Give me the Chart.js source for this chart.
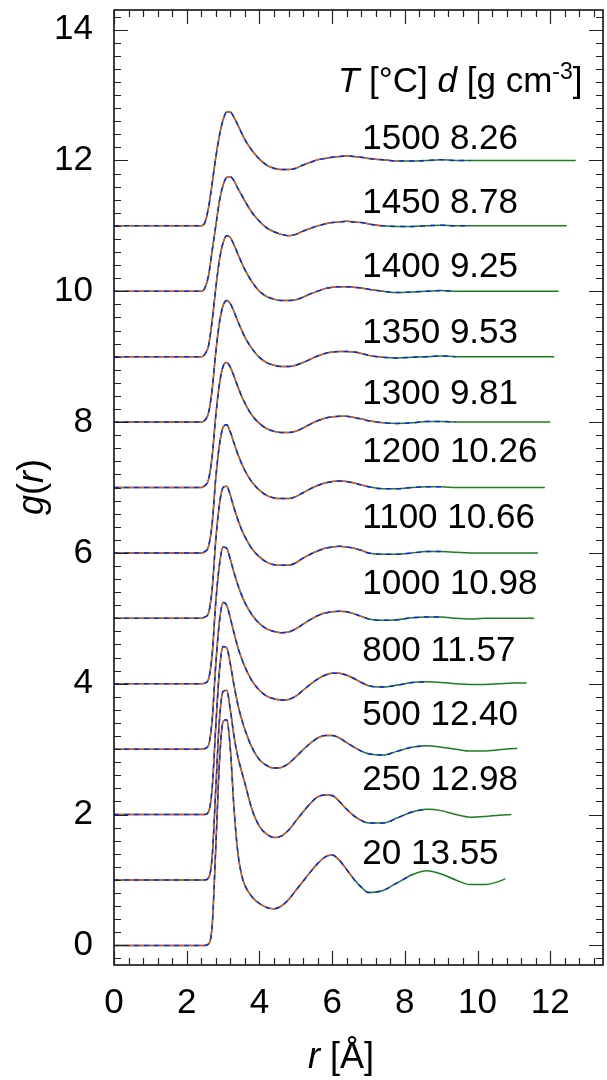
<!DOCTYPE html>
<html>
<head>
<meta charset="utf-8">
<script src="https://cdn.jsdelivr.net/npm/chart.js@4/dist/chart.umd.min.js"></script>
<style>
  html, body { margin: 0; padding: 0; background: #fff; }
  #wrap { width: 607px; height: 1080px; }
</style>
</head>
<body>
<div id="wrap"><canvas id="chart" width="607" height="1080"></canvas></div>
<script>
// Temperatures (°C) and densities (g cm-3), bottom curve first
const temps = ['20', '250', '500', '800', '1000', '1100', '1200', '1300', '1350', '1400', '1450', '1500'];
const densities = ['13.55', '12.98', '12.40', '11.57', '10.98', '10.66', '10.26', '9.81', '9.53', '9.25', '8.78', '8.26'];

// r grid (Å) shared by all curves
const rGrid = [0, 2.4, 2.5, 2.6, 2.7, 2.8, 2.9, 3.0, 3.1, 3.2, 3.3, 3.4, 3.5, 3.6,
  3.8, 4.0, 4.2, 4.4, 4.6, 4.8, 5.0, 5.2, 5.4, 5.6, 5.8, 6.0, 6.2, 6.4, 6.6, 6.8,
  7.0, 7.4, 7.8, 8.2, 8.6, 9.0, 9.4, 9.8, 10.2, 10.6, 11.0, 11.4, 11.8, 12.2, 12.6];

// g(r) for each temperature (not shifted)
const g20 = [0, 0, 0, 0.02, 0.3, 1.5, 2.8, 3.42, 3.45, 3.0, 2.1, 1.45, 1.1, 0.92,
  0.74, 0.64, 0.58, 0.56, 0.6, 0.7, 0.84, 0.98, 1.12, 1.25, 1.35, 1.38, 1.3, 1.16, 1.01, 0.89,
  0.81, 0.84, 0.96, 1.08, 1.14, 1.09, 1.0, 0.93, 0.93, 0.98];
const g250 = [0, 0, 0, 0.03, 0.35, 1.4, 2.45, 2.88, 2.9, 2.6, 2.2, 1.9, 1.68, 1.48,
  1.07, 0.82, 0.7, 0.65, 0.67, 0.76, 0.9, 1.04, 1.17, 1.27, 1.3, 1.29, 1.2, 1.08, 0.98, 0.91,
  0.87, 0.87, 0.95, 1.04, 1.08, 1.06, 1.0, 0.96, 0.97, 0.99];
const g500 = [0, 0, 0, 0.04, 0.4, 1.35, 2.2, 2.57, 2.55, 2.3, 1.98, 1.7, 1.48, 1.3,
  1.02, 0.84, 0.75, 0.71, 0.72, 0.78, 0.88, 0.99, 1.09, 1.17, 1.21, 1.21, 1.17, 1.1, 1.03, 0.97,
  0.93, 0.91, 0.97, 1.03, 1.05, 1.03, 1.0, 0.97, 0.97, 0.99, 1.01];
const g800 = [0, 0, 0.01, 0.06, 0.45, 1.3, 1.95, 2.24, 2.2, 2.0, 1.78, 1.57, 1.4, 1.26,
  1.04, 0.9, 0.81, 0.77, 0.75, 0.76, 0.81, 0.9, 0.99, 1.07, 1.13, 1.16, 1.16, 1.13, 1.08, 1.02,
  0.97, 0.95, 0.98, 1.02, 1.03, 1.02, 1.0, 0.99, 0.99, 1.0, 1.01];
const g1000 = [0, 0, 0.01, 0.07, 0.45, 1.25, 1.82, 2.09, 2.07, 1.9, 1.7, 1.52, 1.37, 1.24,
  1.05, 0.92, 0.84, 0.8, 0.78, 0.79, 0.84, 0.91, 0.98, 1.04, 1.08, 1.1, 1.11, 1.1, 1.07, 1.03,
  0.99, 0.97, 0.98, 1.01, 1.02, 1.02, 1.0, 0.99, 1.0, 1.0, 1.0, 1.0];
const g1100 = [0, 0, 0.02, 0.08, 0.45, 1.2, 1.74, 2.0, 2.02, 1.88, 1.69, 1.52, 1.37, 1.25,
  1.06, 0.94, 0.86, 0.82, 0.81, 0.81, 0.85, 0.92, 0.98, 1.03, 1.07, 1.09, 1.1, 1.09, 1.07, 1.04,
  1.0, 0.98, 0.98, 1.0, 1.02, 1.02, 1.01, 1.0, 1.0, 1.0, 1.0, 1.0];
const g1200 = [0, 0, 0.02, 0.1, 0.45, 1.15, 1.65, 1.92, 1.96, 1.85, 1.68, 1.52, 1.38, 1.26,
  1.08, 0.96, 0.88, 0.84, 0.83, 0.83, 0.86, 0.92, 0.98, 1.03, 1.07, 1.09, 1.1, 1.09, 1.07, 1.04,
  1.01, 0.98, 0.98, 1.0, 1.01, 1.01, 1.0, 1.0, 1.0, 1.0, 1.0, 1.0];
const g1300 = [0, 0, 0.03, 0.12, 0.48, 1.1, 1.58, 1.85, 1.91, 1.84, 1.7, 1.55, 1.41, 1.29,
  1.1, 0.98, 0.9, 0.86, 0.84, 0.84, 0.86, 0.91, 0.97, 1.02, 1.06, 1.08, 1.09, 1.09, 1.07, 1.05,
  1.02, 0.99, 0.98, 0.99, 1.01, 1.01, 1.0, 1.0, 1.0, 1.0, 1.0, 1.0, 1.0];
const g1350 = [0, 0, 0.03, 0.14, 0.5, 1.07, 1.52, 1.78, 1.86, 1.81, 1.69, 1.55, 1.42, 1.3,
  1.12, 0.99, 0.91, 0.87, 0.85, 0.85, 0.87, 0.91, 0.96, 1.01, 1.05, 1.07, 1.08, 1.08, 1.07, 1.05,
  1.02, 0.99, 0.98, 0.99, 1.0, 1.01, 1.0, 1.0, 1.0, 1.0, 1.0, 1.0, 1.0];
const g1400 = [0, 0, 0.04, 0.17, 0.55, 1.05, 1.48, 1.74, 1.85, 1.82, 1.71, 1.58, 1.45, 1.33,
  1.14, 1.0, 0.92, 0.88, 0.86, 0.86, 0.87, 0.91, 0.96, 1.0, 1.04, 1.06, 1.07, 1.07, 1.06, 1.05,
  1.03, 1.0, 0.98, 0.99, 1.0, 1.01, 1.0, 1.0, 1.0, 1.0, 1.0, 1.0, 1.0, 1.0];
const g1450 = [0, 0, 0.05, 0.24, 0.62, 1.0, 1.38, 1.62, 1.74, 1.75, 1.69, 1.58, 1.48, 1.38,
  1.2, 1.07, 0.97, 0.91, 0.87, 0.85, 0.87, 0.92, 0.96, 1.0, 1.03, 1.05, 1.06, 1.07, 1.06, 1.05,
  1.03, 1.0, 0.99, 0.99, 1.0, 1.01, 1.0, 1.0, 1.0, 1.0, 1.0, 1.0, 1.0, 1.0];
const g1500 = [0, 0, 0.05, 0.28, 0.65, 1.05, 1.38, 1.62, 1.74, 1.74, 1.66, 1.55, 1.43, 1.32,
  1.15, 1.02, 0.93, 0.88, 0.86, 0.86, 0.88, 0.93, 0.97, 1.01, 1.03, 1.05, 1.06, 1.07, 1.06, 1.05,
  1.03, 1.01, 0.99, 0.99, 1.0, 1.01, 1.0, 1.0, 1.0, 1.0, 1.0, 1.0, 1.0, 1.0, 1.0];
const gCurves = [g20, g250, g500, g800, g1000, g1100, g1200, g1300, g1350, g1400, g1450, g1500];

// where each of the three traces stops (Å), and the last green value
const greenEnd = [10.77, 10.93, 11.09, 11.35, 11.55, 11.66, 11.85, 12.0, 12.11, 12.23, 12.45, 12.7];
const greenEndG = [1.02, 1.0, 1.01, 1.01, 1.0, 1.0, 1.0, 1.0, 1.0, 1.0, 1.0, 1.0];
const blueEnd = [8.5, 8.62, 8.76, 8.96, 9.12, 9.21, 9.33, 9.47, 9.56, 9.65, 9.82, 10.02];
const orangeEnd = [6.7, 6.8, 6.9, 7.06, 7.19, 7.26, 7.35, 7.46, 7.53, 7.61, 7.74, 7.9];

const xTicks = [0, 2, 4, 6, 8, 10, 12];
const yTicks = [0, 2, 4, 6, 8, 10, 12, 14];

// label heights (in g units) of the "T d" text next to each curve
const labelPos = [1.39, 2.52, 3.52, 4.50, 5.52, 6.53, 7.53, 8.43, 9.36, 10.36, 11.35, 12.32];

const FONT = "'Liberation Sans', Arial, sans-serif";
const GREEN = '#1e7d1e';
const BLUE = '#1020ff';
const ORANGE = '#e0561b';

function curvePoints(k, stop, withEnd) {
  const g = gCurves[k];
  const pts = [];
  for (let i = 0; i < g.length; i++) {
    if (rGrid[i] <= stop) pts.push({ x: rGrid[i], y: g[i] + k });
  }
  if (withEnd) pts.push({ x: greenEnd[k], y: greenEndG[k] + k });
  return pts;
}

const datasets = [];
temps.forEach((t, k) => {
  const base = { pointRadius: 0, borderWidth: 1.5, fill: false, cubicInterpolationMode: 'monotone' };
  datasets.push(Object.assign({}, base, { label: t + ' sim A', data: curvePoints(k, greenEnd[k] - 0.01, true), borderColor: GREEN, order: 3 }));
  datasets.push(Object.assign({}, base, { label: t + ' sim B', data: curvePoints(k, blueEnd[k], false), borderColor: BLUE, borderDash: [5, 5], order: 2 }));
  datasets.push(Object.assign({}, base, { label: t + ' sim C', data: curvePoints(k, orangeEnd[k], false), borderColor: ORANGE, borderDash: [5, 5], borderDashOffset: 5, order: 1 }));
});

// draws a row of text pieces, some italic, some raised
function drawPieces(ctx, pieces, x, y, size) {
  let cx = x;
  pieces.forEach(p => {
    const sz = p.sup ? Math.round(size * 0.65) : size;
    ctx.font = (p.it ? 'italic ' : '') + sz + 'px ' + FONT;
    ctx.fillText(p.t, cx, p.sup ? y - size * 0.38 : y);
    cx += ctx.measureText(p.t).width;
  });
}
function piecesWidth(ctx, pieces, size) {
  let w = 0;
  pieces.forEach(p => {
    const sz = p.sup ? Math.round(size * 0.65) : size;
    ctx.font = (p.it ? 'italic ' : '') + sz + 'px ' + FONT;
    w += ctx.measureText(p.t).width;
  });
  return w;
}

const framePlugin = {
  id: 'frame',
  afterDraw(chart) {
    const ctx = chart.ctx;
    const a = chart.chartArea;
    const xs = chart.scales.x, ys = chart.scales.y;
    ctx.save();
    ctx.strokeStyle = '#000';
    ctx.lineWidth = 1.5;
    ctx.strokeRect(a.left, a.top, a.right - a.left, a.bottom - a.top);

    // inward ticks on all four sides
    ctx.lineWidth = 1.2;
    ctx.strokeStyle = '#222';
    ctx.beginPath();
    for (let i = 0; i <= 33; i++) {
      const v = i * 0.4;
      const px = Math.round(xs.getPixelForValue(v)) + 0.5;
      const len = (i % 5 === 0) ? 14 : 7;
      ctx.moveTo(px, a.bottom); ctx.lineTo(px, a.bottom - len);
      ctx.moveTo(px, a.top); ctx.lineTo(px, a.top + len);
    }
    for (let i = -1; i <= 71; i++) {
      const v = i * 0.2;
      const py = Math.round(ys.getPixelForValue(v)) + 0.5;
      const len = (i % 10 === 0) ? 14 : 7;
      ctx.moveTo(a.left, py); ctx.lineTo(a.left + len, py);
      ctx.moveTo(a.right, py); ctx.lineTo(a.right - len, py);
    }
    ctx.stroke();

    ctx.fillStyle = '#000';

    // tick labels
    ctx.font = '35px ' + FONT;
    ctx.textBaseline = 'middle';
    ctx.textAlign = 'center';
    xTicks.forEach(v => ctx.fillText(String(v), xs.getPixelForValue(v), a.bottom + 38));
    ctx.textAlign = 'right';
    yTicks.forEach(v => ctx.fillText(String(v), a.left - 21, ys.getPixelForValue(v)));

    // curve labels
    ctx.textAlign = 'left';
    const lx = xs.getPixelForValue(6.83);
    ctx.font = '35px ' + FONT;
    temps.forEach((t, k) => {
      ctx.fillText(t + ' ' + densities[k], lx, ys.getPixelForValue(labelPos[k]));
    });

    // header
    const head = [
      { t: 'T', it: true }, { t: ' [°C] ' }, { t: 'd', it: true },
      { t: ' [g cm' }, { t: '-3', sup: true }, { t: ']' }
    ];
    ctx.textBaseline = 'alphabetic';
    drawPieces(ctx, head, 338, 92, 35);

    // x title
    const xt = [{ t: 'r', it: true }, { t: ' [Å]' }];
    const xw = piecesWidth(ctx, xt, 36);
    drawPieces(ctx, xt, 341 - xw / 2, 1068, 36);

    // y title
    const yt = [{ t: 'g', it: true }, { t: '(' }, { t: 'r', it: true }, { t: ')' }];
    const yw = piecesWidth(ctx, yt, 36);
    ctx.translate(43, 487);
    ctx.rotate(-Math.PI / 2);
    drawPieces(ctx, yt, -yw / 2, 0, 36);
    ctx.restore();
  }
};

new Chart(document.getElementById('chart'), {
  type: 'line',
  data: { datasets: datasets },
  options: {
    responsive: false,
    animation: false,
    devicePixelRatio: 1,
    layout: { padding: { top: 10, right: 4, left: 114, bottom: 115 } },
    plugins: { legend: { display: false }, tooltip: { enabled: false } },
    scales: {
      x: {
        type: 'linear', min: 0, max: 13.45,
        display: false
      },
      y: {
        type: 'linear', min: -0.3, max: 14.3,
        display: false
      }
    }
  },
  plugins: [framePlugin]
});
</script>
</body>
</html>
